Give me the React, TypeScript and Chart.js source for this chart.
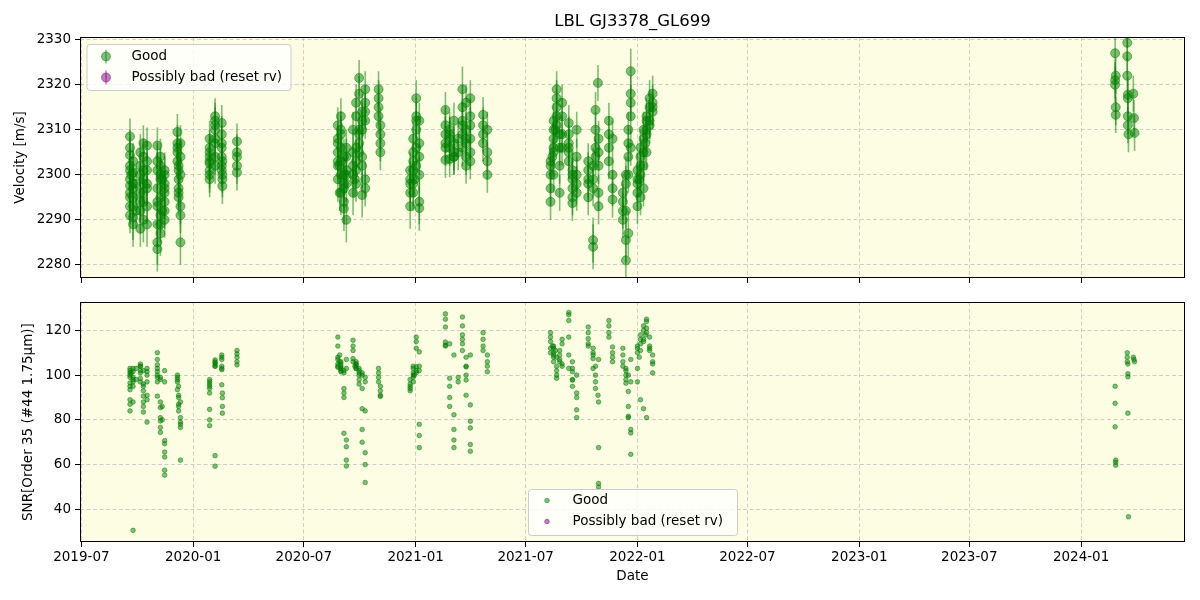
import React, { useEffect, useRef } from 'react';
import { Chart, registerables } from 'chart.js';

Chart.register(...registerables);

const chartTitle = 'LBL GJ3378_GL699';
const seriesLabels = ['Good', 'Possibly bad (reset rv)'];
const xTickLabels = ['2019-07', '2020-01', '2020-07', '2021-01', '2021-07', '2022-01', '2022-07', '2023-01', '2023-07', '2024-01'];
const rvTicks = [2280, 2290, 2300, 2310, 2320, 2330];
const snrTicks = [40, 60, 80, 100, 120];
const rvAxisTitle = 'Velocity [m/s]';
const snrAxisTitle = 'SNR[Order 35 (#44 1.75μm)]';
const xAxisTitle = 'Date';

// observation dates: days since 2019-07-01 (one line per observing run)
const obsDay = [
  80, 80, 80, 80, 80, 80, 80, 80, 85, 85, 85, 85, 85, 85,
  97, 97, 97, 97, 97, 102, 102, 102, 102, 102, 102, 108, 108, 108, 108, 108,
  125, 125, 125, 125, 125, 125, 125, 130, 130, 130, 130, 130, 130, 137, 137, 137, 137, 137, 137,
  158, 158, 158, 158, 160, 160, 160, 160, 163, 163, 163, 163,
  211, 211, 211, 211, 211, 211, 211,
  220, 220, 220, 220, 220, 220,
  231, 231, 231, 231, 231, 232, 232, 232, 232,
  256, 256, 256, 256, 256,
  422, 422, 422, 422, 422, 427, 427, 427, 427, 427, 432, 432, 432, 432, 436, 436, 436, 436,
  447, 447, 447, 447, 452, 452, 452, 452, 457, 457, 457, 457, 462, 462, 462, 462, 467, 467, 467, 467,
  489, 489, 489, 489, 492, 492, 492, 492,
  541, 541, 541, 541, 546, 546, 546, 546, 551, 551, 551, 551, 556, 556, 556, 556,
  599, 599, 599, 599, 599, 606, 606, 606, 606, 613, 613, 613, 613,
  627, 627, 627, 627, 627, 633, 633, 633, 633, 633, 640, 640, 640, 640, 640,
  661, 661, 661, 661, 668, 668, 668, 668,
  772, 772, 772, 772, 777, 777, 777, 777, 782, 782, 782, 782, 787, 787, 787, 791, 791, 791,
  802, 802, 802, 802, 802, 808, 808, 808, 808, 808, 815, 815, 815, 815,
  834, 834, 834, 834, 842, 842, 842, 842, 846, 846, 846, 850, 851, 851, 851, 851,
  868, 868, 868, 868, 874, 874, 874, 874,
  891, 891, 891, 891, 896, 896, 896, 896, 900, 900, 900, 900, 904, 904, 904, 904,
  915, 915, 915, 915, 920, 920, 920, 920, 925, 925, 925, 925, 930, 930, 930, 930, 935, 935, 935, 940, 940, 940,
  1701, 1701, 1701, 1702, 1702, 1702,
  1721, 1721, 1721, 1722, 1722, 1722, 1722, 1723,
  1731, 1732, 1733,
  // additional exposures inside the dense runs
  80, 80, 80, 85, 85, 97, 97, 102, 102, 108, 108, 82, 90, 90,
  125, 125, 130, 130, 137, 137, 133, 133,
  158, 160, 160, 163, 163,
  211, 211, 220, 220, 231, 231,
  422, 422, 427, 427, 432, 432, 436, 436, 425, 425,
  447, 452, 452, 457, 457, 462, 462, 467, 467, 450,
  541, 546, 546, 551, 551, 556, 556, 548,
  599, 606, 613, 627, 633, 640, 620, 620,
  772, 777, 777, 782, 787, 791, 775, 780,
  802, 808, 815, 834, 842, 846, 851,
  896, 900, 904, 915, 920, 925, 930, 935, 940, 918, 928,
];

const rvValue = [
  2308.5, 2306, 2304.4, 2301, 2299, 2297.6, 2295, 2291, 2300.5, 2298, 2295, 2293, 2290.5, 2289,
  2296, 2302, 2292, 2288, 2305, 2299, 2296, 2307, 2290, 2301, 2294, 2298, 2306.5, 2303, 2289, 2297,
  2306.5, 2301, 2297, 2293, 2289, 2285, 2283.5, 2299, 2295, 2291, 2287, 2304, 2302, 2300, 2296, 2292, 2294, 2298, 2290,
  2309.5, 2307, 2305, 2303, 2301, 2299, 2297, 2295, 2293, 2291, 2304, 2285,
  2308, 2306, 2304, 2302.5, 2301, 2299, 2300,
  2313, 2312, 2310, 2307, 2304, 2302,
  2311.5, 2309, 2307, 2304, 2301, 2299, 2297.5, 2303, 2300,
  2307.4, 2305, 2304, 2302, 2300.5,
  2311, 2308, 2305, 2302, 2299, 2296, 2313, 2310, 2306, 2303, 2300, 2297, 2294, 2292.5, 2290, 2304, 2301, 2298,
  2305, 2300, 2296, 2310, 2313, 2303, 2298, 2316, 2318, 2321.5, 2307, 2309, 2312, 2304, 2295.5, 2302, 2314, 2319, 2297, 2299,
  2319, 2317, 2315, 2313, 2311, 2309, 2307, 2305,
  2296, 2299, 2293, 2301, 2305, 2298, 2303, 2308, 2312, 2310, 2313, 2317, 2292.6, 2294, 2300, 2307,
  2303.3, 2307, 2309, 2311, 2314.4, 2310, 2306, 2303.5, 2308, 2305, 2304, 2312, 2307,
  2306, 2309, 2312, 2315, 2319, 2316, 2310, 2304, 2302, 2308, 2303, 2313, 2317, 2311, 2305,
  2313.3, 2311, 2309, 2307, 2305, 2303, 2300, 2310,
  2294, 2297, 2300, 2303, 2305, 2308, 2310, 2312, 2315, 2317, 2319, 2311, 2306, 2296, 2302, 2306, 2309, 2313,
  2311.5, 2309, 2307, 2305, 2303, 2301, 2299, 2297, 2295, 2293.7, 2300, 2304, 2310, 2296,
  2295, 2298, 2301, 2303, 2284, 2285.5, 2299, 2302, 2306, 2310, 2314.4, 2320.4, 2293, 2296, 2305, 2308,
  2312, 2309, 2306, 2303, 2300, 2297, 2294.5, 2308,
  2290, 2292, 2294, 2296, 2298, 2300, 2285.5, 2281, 2287, 2304, 2307, 2310, 2313, 2316, 2318, 2323,
  2293, 2296, 2299, 2301, 2295, 2300, 2304, 2306, 2297, 2302, 2308, 2310, 2305, 2309, 2312, 2313, 2311, 2315, 2317, 2314, 2316, 2318,
  2327, 2321, 2320, 2315, 2313.3, 2322,
  2329.3, 2326.3, 2322, 2317.8, 2317, 2313, 2311, 2309,
  2318, 2312.6, 2309.3,
  2302, 2296, 2293, 2303, 2297, 2300, 2294, 2304, 2298, 2301, 2293, 2300, 2298, 2292,
  2303, 2294, 2300, 2289, 2301, 2297, 2299, 2292,
  2306, 2302, 2296, 2300, 2307,
  2305, 2303, 2311, 2308, 2306, 2302,
  2307, 2303, 2309, 2300, 2304, 2298, 2306, 2300, 2302, 2296,
  2302, 2306, 2301, 2310, 2305, 2314, 2310, 2316, 2312, 2299,
  2298, 2301, 2296, 2306, 2302, 2312, 2304, 2299,
  2306, 2309, 2304, 2311, 2307, 2308, 2308, 2305,
  2302, 2300, 2306, 2313, 2309, 2316, 2304, 2310,
  2306, 2300, 2298, 2299, 2297, 2304, 2302,
  2292, 2300, 2306, 2298, 2302, 2305, 2310, 2312, 2315, 2299, 2307,
];

const rvError = [
  4, 4, 4, 4, 4, 4, 4, 4, 5, 5, 5, 5, 5, 5,
  5, 4, 5, 4, 4, 5, 4, 4, 5, 4, 5, 4, 4, 4, 5, 4,
  4, 4, 5, 5, 5, 5, 5, 4, 4, 4, 5, 4, 4, 4, 4, 4, 4, 4, 4,
  4, 4, 4, 4, 4, 4, 4, 4, 4, 4, 4, 5,
  4, 4, 4, 4, 4, 4, 4,
  4, 4, 4, 4, 4, 4,
  4, 4, 4, 4, 4, 4, 4, 4, 4,
  4, 4, 4, 4, 4,
  4, 4, 4, 4, 5, 5, 4, 4, 4, 4, 4, 5, 5, 5, 5, 4, 4, 4,
  5, 5, 5, 4, 4, 5, 4, 4, 4, 4, 4, 4, 4, 4, 5, 5, 4, 4, 4, 4,
  4, 4, 4, 4, 4, 4, 4, 4,
  4, 4, 5, 4, 4, 5, 4, 4, 4, 4, 4, 4, 5, 5, 4, 4,
  4, 4, 4, 4, 4, 4, 4, 4, 4, 4, 4, 4, 4,
  4, 4, 4, 5, 5, 4, 4, 4, 4, 4, 4, 4, 4, 4, 4,
  4, 4, 4, 4, 4, 4, 4, 4,
  4, 4, 4, 4, 4, 4, 4, 4, 4, 4, 4, 4, 4, 4, 4, 4, 4, 4,
  4, 4, 4, 4, 4, 4, 4, 4, 4, 4, 4, 4, 4, 4,
  4, 4, 4, 4, 5, 5, 4, 4, 4, 4, 4, 4, 4, 4, 4, 4,
  4, 4, 4, 4, 4, 4, 4, 4,
  4, 4, 4, 4, 4, 4, 5, 5, 5, 4, 4, 4, 4, 4, 4, 5,
  4, 4, 4, 4, 4, 4, 4, 4, 4, 4, 4, 4, 4, 4, 4, 4, 4, 4, 4, 4, 4, 4,
  4, 4, 4, 4, 4, 4,
  4, 4, 4, 4, 4, 4, 4, 4,
  4, 4, 4,
  4, 4, 4, 4, 4, 4, 4, 4, 4, 4, 4, 4, 4, 4,
  4, 4, 4, 4, 4, 4, 4, 4,
  4, 4, 4, 4, 4,
  4, 4, 4, 4, 4, 4,
  4, 4, 4, 4, 4, 4, 4, 4, 4, 4,
  4, 4, 4, 4, 4, 4, 4, 4, 4, 4,
  4, 4, 4, 4, 4, 4, 4, 4,
  4, 4, 4, 4, 4, 4, 4, 4,
  4, 4, 4, 4, 4, 4, 4, 4,
  4, 4, 4, 4, 4, 4, 4,
  4, 4, 4, 4, 4, 4, 4, 4, 4, 4, 4,
];

const snrValue = [
  103, 101, 96.5, 95, 93.5, 89, 87, 84, 30.6, 101.6, 99, 97, 95, 88,
  105, 104, 102, 101, 98.5, 96, 93, 90.6, 88, 86, 83.5, 79, 103, 101.6, 97, 91,
  110, 107, 104.6, 101.6, 99, 97, 90.6, 88, 85.5, 81, 79.5, 76.6, 74.4, 70.7, 69.3, 65.6, 63.4, 57.5, 55.3,
  100, 98, 97, 93.5, 91, 90, 87, 84, 81, 78, 76.6, 62,
  98, 96, 94, 92, 84.7, 80, 77.4,
  106.8, 105.5, 104, 104, 64, 59.3,
  109, 107, 104, 102.4, 95.7, 92, 89.9, 86, 83,
  111, 109.5, 108, 106, 104.6,
  117, 113, 107, 105, 103.5, 102, 101.5, 104, 106, 103, 94, 92, 90, 74, 71, 68, 62, 59.4,
  115.6, 113, 111, 107.4, 106, 105, 104, 103, 102, 100, 98, 96, 94, 85, 75.7, 70, 65.3, 60, 52, 84,
  103, 101, 99, 97, 95, 93, 91, 90.5,
  93, 95, 96, 98, 100, 101, 103, 104, 103.7, 117, 115, 112, 110.4, 78, 73, 67.6,
  127.4, 125, 121.5, 114.8, 113.4, 98.6, 95, 90, 86, 82.3, 75.7, 71, 67.6,
  126, 122, 118, 114, 111, 108, 103.7, 100, 97.8, 91, 86.7, 79.4, 76.4, 69, 66,
  119, 116, 113, 111, 109, 106, 104, 101.5,
  112, 115, 117, 119, 113, 110, 108, 106, 104, 102, 100, 98.6, 111, 109, 107, 114, 116, 105,
  128, 127, 124.4, 117, 109, 106, 103, 101.5, 97.8, 95, 92, 90, 84.5, 81,
  121.5, 119, 116.3, 114, 112, 109, 107.4, 103, 100, 97, 94, 91, 88, 67.6, 51.6, 50,
  124.4, 122, 119, 117, 112.6, 110, 108, 106,
  112, 109, 106, 104, 102, 100, 98, 96.4, 92.7, 86, 81.6, 81, 75.7, 74.2, 64.6, 107,
  110, 112, 103, 97, 114, 116, 118, 89, 120, 122, 115, 85, 124, 125, 121, 81, 117, 113, 111, 109, 105, 101,
  95, 87.4, 76.9, 62, 61, 59.7,
  110, 108, 106, 105, 100.6, 99.3, 83, 36.7,
  108, 107, 106,
  102, 100, 99, 103, 98, 104, 97, 102, 95, 100, 89, 101, 103, 98,
  103, 100, 98, 99, 102, 97, 80, 86,
  99, 95, 86, 88, 79,
  97, 95, 105, 106, 108, 103,
  108, 104, 105, 103, 102, 101, 107, 103, 109, 106,
  106, 105, 103, 103, 101, 101, 100, 99, 97, 104,
  94, 99, 97, 102, 101, 104, 102, 100,
  113, 114, 109, 116, 104, 109, 99, 97,
  110, 109, 112, 108, 106, 104, 113, 111,
  103, 98, 100, 113, 110, 104, 107,
  103, 100, 97, 113, 111, 116, 119, 112, 106, 108, 118,
];

// "Possibly bad (reset rv)" series: empty in this dataset
const badDay: number[] = [];
const badRv: number[] = [];
const badRvError: number[] = [];
const badSnr: number[] = [];

const FONT = "'DejaVu Sans', 'Liberation Sans', sans-serif";
const GREEN = 'rgba(0,128,0,0.5)';
const PURPLE = 'rgba(128,0,128,0.5)';
const PLOT_BG = '#fdfde3';
const GRID = 'rgba(176,176,176,0.6)';
const X_MIN = -2.3;
const X_MAX = 1816;
const RV_MIN = 2277.1;
const RV_MAX = 2330.6;
const SNR_MIN = 25.4;
const SNR_MAX = 132.65;

const baseDate = Date.UTC(2019, 6, 1);
const dayOfLabel = (s: string) => {
  const [y, m] = s.split('-').map(Number);
  return (Date.UTC(y, m - 1, 1) - baseDate) / 86400000;
};
const xTickDays = xTickLabels.map(dayOfLabel);

const tickFont = { family: FONT, size: 13.5 };

const gridOpts = { color: GRID, lineWidth: 1, tickColor: '#000', tickLength: 5, tickWidth: 1 };
const borderOpts = { display: false, dash: [4, 2.5] };

function roundRectPath(ctx: CanvasRenderingContext2D, x: number, y: number, w: number, h: number, r: number) {
  ctx.beginPath();
  ctx.moveTo(x + r, y);
  ctx.lineTo(x + w - r, y);
  ctx.arcTo(x + w, y, x + w, y + r, r);
  ctx.lineTo(x + w, y + h - r);
  ctx.arcTo(x + w, y + h, x + w - r, y + h, r);
  ctx.lineTo(x + r, y + h);
  ctx.arcTo(x, y + h, x, y + h - r, r);
  ctx.lineTo(x, y + r);
  ctx.arcTo(x, y, x + r, y, r);
  ctx.closePath();
}

function drawLegend(
  ctx: CanvasRenderingContext2D,
  box: { x: number; y: number; w: number; h: number },
  markerX: number,
  textX: number,
  rowsY: number[],
  kind: 'errorbar' | 'dot',
) {
  ctx.save();
  roundRectPath(ctx, box.x, box.y, box.w, box.h, 3);
  ctx.fillStyle = 'rgba(255,255,255,0.8)';
  ctx.fill();
  ctx.strokeStyle = '#cccccc';
  ctx.lineWidth = 1;
  ctx.stroke();
  const colors = [GREEN, PURPLE];
  rowsY.forEach((y, i) => {
    ctx.fillStyle = colors[i];
    ctx.strokeStyle = colors[i];
    if (kind === 'errorbar') {
      ctx.lineWidth = 1.5;
      ctx.beginPath();
      ctx.moveTo(markerX, y - 7);
      ctx.lineTo(markerX, y + 7);
      ctx.stroke();
      ctx.lineWidth = 1;
      ctx.beginPath();
      ctx.arc(markerX, y, 4.5, 0, Math.PI * 2);
      ctx.fill();
      ctx.stroke();
    } else {
      ctx.lineWidth = 1;
      ctx.beginPath();
      ctx.arc(markerX, y, 2.3, 0, Math.PI * 2);
      ctx.fill();
      ctx.stroke();
    }
    ctx.fillStyle = '#000';
    ctx.font = `13.5px ${FONT}`;
    ctx.textAlign = 'left';
    ctx.textBaseline = 'middle';
    ctx.fillText(seriesLabels[i], textX, y);
  });
  ctx.restore();
}

function framePlugin(id: string, extra?: (chart: any) => void) {
  return {
    id,
    beforeDraw(chart: any) {
      const { ctx, chartArea: a } = chart;
      ctx.save();
      ctx.fillStyle = PLOT_BG;
      ctx.fillRect(a.left, a.top, a.right - a.left, a.bottom - a.top);
      ctx.restore();
    },
    afterDraw(chart: any) {
      const { ctx, chartArea: a } = chart;
      ctx.save();
      ctx.strokeStyle = '#000';
      ctx.lineWidth = 1;
      const l = Math.round(a.left) + 0.5;
      const t = Math.round(a.top) + 0.5;
      const r = Math.round(a.right) - 0.5;
      const b = Math.round(a.bottom) - 0.5;
      ctx.strokeRect(l, t, r - l, b - t);
      ctx.restore();
      if (extra) extra(chart);
    },
  };
}

const errorBarPlugin = {
  id: 'errorBars',
  beforeDatasetsDraw(chart: any) {
    const { ctx, chartArea: a } = chart;
    const xs = chart.scales.x;
    const ys = chart.scales.y;
    ctx.save();
    ctx.beginPath();
    ctx.rect(a.left, a.top, a.right - a.left, a.bottom - a.top);
    ctx.clip();
    ctx.lineWidth = 1.6;
    const draw = (days: number[], vals: number[], errs: number[], color: string) => {
      ctx.strokeStyle = color;
      days.forEach((d, i) => {
        const px = xs.getPixelForValue(d);
        ctx.beginPath();
        ctx.moveTo(px, ys.getPixelForValue(vals[i] - errs[i]));
        ctx.lineTo(px, ys.getPixelForValue(vals[i] + errs[i]));
        ctx.stroke();
      });
    };
    draw(obsDay, rvValue, rvError, GREEN);
    draw(badDay, badRv, badRvError, PURPLE);
    ctx.restore();
  },
};

function xScale(showLabels: boolean, height: number) {
  return {
    type: 'linear',
    min: X_MIN,
    max: X_MAX,
    afterBuildTicks: (s: any) => {
      s.ticks = xTickDays.map((v) => ({ value: v }));
    },
    afterFit: (s: any) => {
      s.height = height;
    },
    ticks: {
      display: showLabels,
      autoSkip: false,
      maxRotation: 0,
      minRotation: 0,
      padding: 2,
      color: '#000',
      font: tickFont,
      callback: (_v: any, i: number) => xTickLabels[i],
    },
    grid: gridOpts,
    border: borderOpts,
    title: {
      display: showLabels,
      text: xAxisTitle,
      color: '#000',
      font: tickFont,
      padding: { top: 0, bottom: 15 },
    },
  };
}

function yScale(min: number, max: number, ticks: number[], title: string, titlePad: number) {
  return {
    type: 'linear',
    min,
    max,
    afterBuildTicks: (s: any) => {
      s.ticks = ticks.map((v) => ({ value: v }));
    },
    afterFit: (s: any) => {
      s.width = 80;
    },
    ticks: {
      padding: 4,
      color: '#000',
      font: tickFont,
      callback: (v: any) => String(v),
    },
    grid: gridOpts,
    border: borderOpts,
    title: {
      display: true,
      text: title,
      color: '#000',
      font: tickFont,
      padding: { top: titlePad, bottom: 0 },
    },
  };
}

const pts = (xs: number[], ys: number[]) => xs.map((x, i) => ({ x, y: ys[i] }));

export default function App() {
  const topRef = useRef<HTMLCanvasElement>(null);
  const bottomRef = useRef<HTMLCanvasElement>(null);

  useEffect(() => {
    Chart.defaults.font.family = FONT;

    const topChart = new Chart(topRef.current as HTMLCanvasElement, {
      type: 'scatter',
      data: {
        datasets: [
          {
            label: seriesLabels[0],
            data: pts(obsDay, rvValue),
            pointRadius: 4.5,
            pointBackgroundColor: GREEN,
            pointBorderColor: GREEN,
            pointBorderWidth: 1,
            showLine: false,
            clip: 0,
          },
          {
            label: seriesLabels[1],
            data: pts(badDay, badRv),
            pointRadius: 4.5,
            pointBackgroundColor: PURPLE,
            pointBorderColor: PURPLE,
            pointBorderWidth: 1,
            showLine: false,
            clip: 0,
          },
        ],
      },
      options: {
        responsive: false,
        animation: false,
        layout: { padding: { top: 37, right: 15, left: 0, bottom: 0 } },
        plugins: { legend: { display: false }, tooltip: { enabled: false }, title: { display: false } },
        scales: {
          x: xScale(false, 12) as any,
          y: yScale(RV_MIN, RV_MAX, rvTicks, rvAxisTitle, 12) as any,
        },
      },
      plugins: [
        errorBarPlugin as any,
        framePlugin('frameTop', (chart: any) => {
          const ctx = chart.ctx as CanvasRenderingContext2D;
          const a = chart.chartArea;
          ctx.save();
          ctx.fillStyle = '#000';
          ctx.font = `16.5px ${FONT}`;
          ctx.textAlign = 'center';
          ctx.textBaseline = 'middle';
          ctx.fillText(chartTitle, (a.left + a.right) / 2, 22);
          ctx.restore();
          drawLegend(ctx, { x: 87, y: 44.5, w: 204, h: 46 }, 106, 131.5, [56.5, 77.5], 'errorbar');
        }) as any,
      ],
    } as any);

    const bottomChart = new Chart(bottomRef.current as HTMLCanvasElement, {
      type: 'scatter',
      data: {
        datasets: [
          {
            label: seriesLabels[0],
            data: pts(obsDay, snrValue),
            pointRadius: 2.3,
            pointBackgroundColor: GREEN,
            pointBorderColor: GREEN,
            pointBorderWidth: 1,
            showLine: false,
            clip: 0,
          },
          {
            label: seriesLabels[1],
            data: pts(badDay, badSnr),
            pointRadius: 2.3,
            pointBackgroundColor: PURPLE,
            pointBorderColor: PURPLE,
            pointBorderWidth: 1,
            showLine: false,
            clip: 0,
          },
        ],
      },
      options: {
        responsive: false,
        animation: false,
        layout: { padding: { top: 10, right: 15, left: 0, bottom: 0 } },
        plugins: { legend: { display: false }, tooltip: { enabled: false }, title: { display: false } },
        scales: {
          x: xScale(true, 58) as any,
          y: yScale(SNR_MIN, SNR_MAX, snrTicks, snrAxisTitle, 20) as any,
        },
      },
      plugins: [
        framePlugin('frameBottom', (chart: any) => {
          drawLegend(chart.ctx, { x: 528.5, y: 199.5, w: 209, h: 46 }, 547, 572.5, [210.5, 231.5], 'dot');
        }) as any,
      ],
    } as any);

    return () => {
      topChart.destroy();
      bottomChart.destroy();
    };
  }, []);

  return (
    <div style={{ position: 'fixed', left: 0, top: 0, width: 1200, height: 600, background: '#fff' }}>
      <canvas ref={topRef} width={1200} height={290} style={{ display: 'block', width: 1200, height: 290 }} />
      <canvas ref={bottomRef} width={1200} height={310} style={{ display: 'block', width: 1200, height: 310 }} />
    </div>
  );
}
